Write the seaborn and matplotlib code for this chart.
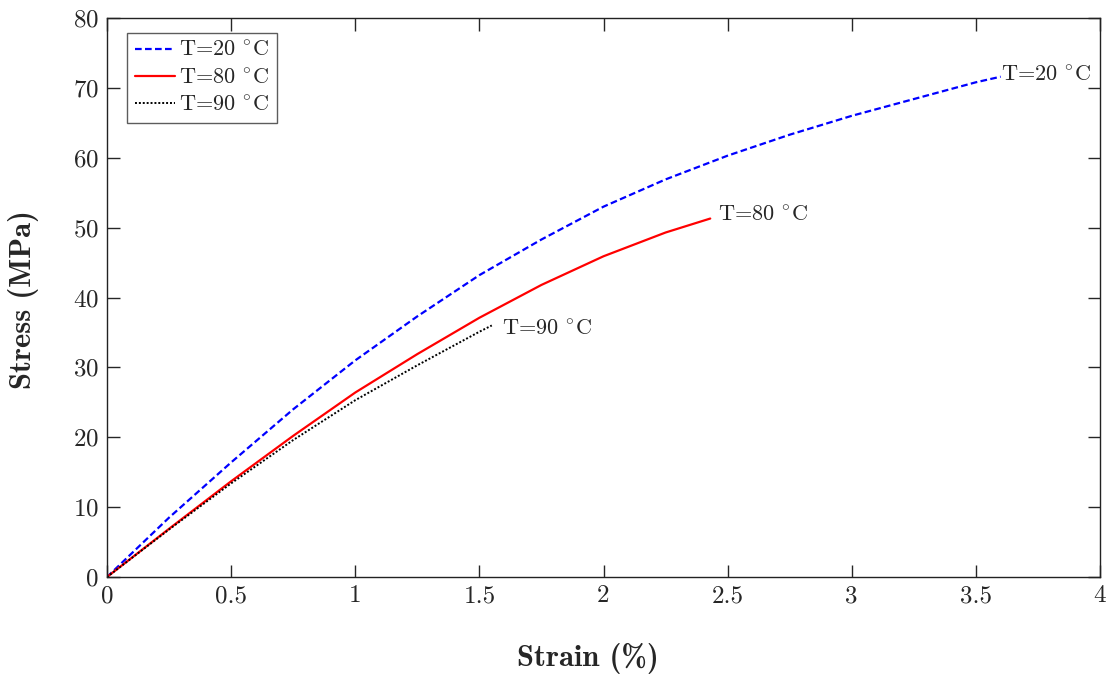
import matplotlib
matplotlib.use("Agg")
import matplotlib.pyplot as plt
import seaborn as sns
import pandas as pd

strain_20 = [0, 0.25, 0.5, 0.75, 1.0, 1.25, 1.5, 1.75, 2.0, 2.25, 2.5, 2.75, 3.0, 3.25, 3.5, 3.6]
stress_20 = [0, 8.5, 16.4, 24.0, 31.0, 37.3, 43.2, 48.3, 53.0, 56.9, 60.3, 63.3, 66.0, 68.4, 70.8, 71.6]

strain_80 = [0, 0.25, 0.5, 0.75, 1.0, 1.25, 1.5, 1.75, 2.0, 2.25, 2.43]
stress_80 = [0, 6.9, 13.7, 20.2, 26.4, 31.9, 37.1, 41.8, 45.9, 49.3, 51.3]

strain_90 = [0, 0.25, 0.5, 0.75, 1.0, 1.25, 1.5, 1.55]
stress_90 = [0, 6.8, 13.4, 19.6, 25.3, 30.3, 35.1, 36.0]

labels = [r"T=20 $^{\circ}$C", r"T=80 $^{\circ}$C", r"T=90 $^{\circ}$C"]

sns.set_style("ticks")
plt.rcParams["font.family"] = ["cmr10", "DejaVu Serif"]
plt.rcParams["mathtext.fontset"] = "cm"
plt.rcParams["axes.unicode_minus"] = False
plt.rcParams["axes.formatter.use_mathtext"] = True

fig = plt.figure(figsize=(11.12, 6.75), dpi=100)
ax = fig.add_axes([107/1112, 1 - 577/675, (1100-107)/1112, (577-18)/675])

df20 = pd.DataFrame({"strain": strain_20, "stress": stress_20})
df80 = pd.DataFrame({"strain": strain_80, "stress": stress_80})
df90 = pd.DataFrame({"strain": strain_90, "stress": stress_90})

sns.lineplot(data=df20, x="strain", y="stress", ax=ax, color="#0000ff", lw=1.6,
             linestyle=(0, (3, 1.5)), label=labels[0], sort=False)
sns.lineplot(data=df80, x="strain", y="stress", ax=ax, color="#ff0000", lw=1.6,
             linestyle="-", label=labels[1], sort=False)
sns.lineplot(data=df90, x="strain", y="stress", ax=ax, color="black", lw=1.4,
             linestyle=(0, (1, 1)), label=labels[2], sort=False)

ax.set_xlim(0, 4)
ax.set_ylim(0, 80)
ax.set_xticks([0, 0.5, 1, 1.5, 2, 2.5, 3, 3.5, 4])
ax.set_xticklabels(["0", "0.5", "1", "1.5", "2", "2.5", "3", "3.5", "4"])
ax.set_yticks(range(0, 81, 10))
ax.tick_params(direction="in", length=9, width=1, labelsize=18, top=True, right=True, pad=6)
for s in ax.spines.values():
    s.set_linewidth(1.0)
    s.set_color("#222222")

ax.set_xlabel("Strain (%)", fontsize=22, family=["cmb10", "DejaVu Serif"])
ax.set_ylabel("Stress (MPa)", fontsize=22, family=["cmb10", "DejaVu Serif"])
ax.xaxis.set_label_coords(0.484, -0.118)
ax.yaxis.set_label_coords(-0.068, 0.497)

ax.text(strain_20[-1], stress_20[-1] + 0.2, labels[0], fontsize=16, va="center", ha="left")
ax.text(strain_80[-1] + 0.03, stress_80[-1] + 0.5, labels[1], fontsize=16, va="center", ha="left")
ax.text(strain_90[-1] + 0.04, stress_90[-1] - 0.6, labels[2], fontsize=16, va="center", ha="left")

leg = ax.legend(loc="upper left", bbox_to_anchor=(0.02, 0.973), fontsize=16,
                frameon=True, fancybox=False, edgecolor="#333333", handlelength=1.8,
                handletextpad=0.2, borderpad=0.35, labelspacing=0.35, borderaxespad=0)
leg.get_frame().set_linewidth(1.0)

fig.savefig("out.png", dpi=100)
